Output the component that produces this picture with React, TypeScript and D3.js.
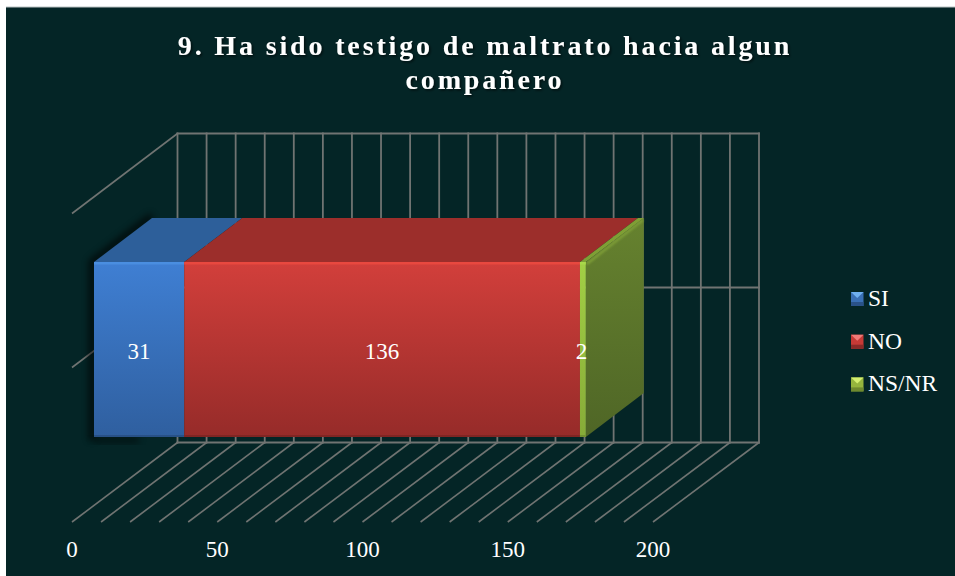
import React from "react";
import * as d3 from "d3";

const title = ["9. Ha sido testigo de maltrato hacia algun", "compañero"];
const seriesNames = ["SI", "NO", "NS/NR"];
const seriesValues = [31, 136, 2];
const axisTicks = [0, 50, 100, 150, 200];
const gridTicks = d3.range(0, 201, 10);

const frontColors = [["#3f7fd3", "#2f5f9f"], ["#d23f3b", "#962b29"], ["#a2cf45", "#86ab38"]];
const topColors = ["#2d5f9a", "#9c2e2b", "#7f9f35"];
const edgeColors = ["#4a8ee0", "#e8483f", "#a8d84a"];
const sideColor = ["#66822f", "#4f6626"];
const legendColors = [["#6fb0f0", "#3a70b5", "#2a5288"], ["#f07a78", "#c63a36", "#8a2a28"], ["#d4ef70", "#95b53d", "#6f8a2e"]];

const backX = d3.scaleLinear().domain([0, 200]).range([177.5, 759]);
const floorX = d3.scaleLinear().domain([0, 200]).range([72, 653]);
const barX = d3.scaleLinear().domain([0, 200]).range([94, 676]);
const wallY = { top: 133.5, mid: 287.5, bottom: 442.5 };
const floorY = 522;
const wallDrop = 80;
const bar = { top: 262, bottom: 437, dx: 58, dy: -44 };

const serif = "'Liberation Serif', 'Times New Roman', serif";
const grid = "#707472";

let acc = 0;
const stacks = seriesValues.map((v) => {
  const s = { x0: barX(acc), x1: barX(acc + v) };
  acc += v;
  return s;
});

export default function App() {
  const last = stacks[stacks.length - 1];
  const first = stacks[0];
  return (
    <svg width={955} height={576} style={{ position: "absolute", left: 0, top: 0, background: "#fff" }}>
      <defs>
        {frontColors.map((c, i) => (
          <linearGradient key={i} id={`f${i}`} x1="0" y1="0" x2="0" y2="1">
            <stop offset="0" stopColor={c[0]} />
            <stop offset="1" stopColor={c[1]} />
          </linearGradient>
        ))}
        <linearGradient id="side" x1="0" y1="0" x2="0" y2="1">
          <stop offset="0" stopColor={sideColor[0]} />
          <stop offset="1" stopColor={sideColor[1]} />
        </linearGradient>
        <filter id="blur" x="-30%" y="-30%" width="160%" height="160%">
          <feGaussianBlur stdDeviation="3.5" />
        </filter>
        <filter id="soft" x="-30%" y="-30%" width="160%" height="160%">
          <feGaussianBlur stdDeviation="1" />
        </filter>
        <filter id="ts" x="-5%" y="-20%" width="110%" height="140%">
          <feDropShadow dx="1.5" dy="1.5" stdDeviation="1" floodColor="#000" floodOpacity="0.6" />
        </filter>
      </defs>
      <rect x={6} y={7} width={949} height={569} fill="#042526" />
      <line x1={6} x2={955} y1={7} y2={7} stroke="#b9c2c2" strokeWidth={1} />

      <g fill="none" stroke={grid} strokeLinecap="square">
        <g strokeWidth={1.8}>
          {gridTicks.map((t) => (
            <line key={`v${t}`} x1={backX(t)} x2={backX(t)} y1={wallY.top} y2={wallY.bottom} />
          ))}
          {[wallY.top, wallY.mid, wallY.bottom].map((y) => (
            <line key={`h${y}`} x1={backX(0)} x2={backX(200)} y1={y} y2={y} />
          ))}
        </g>
        <g strokeWidth={1.6} strokeLinecap="butt">
          {gridTicks.map((t) => (
            <line key={`d${t}`} x1={backX(t)} x2={floorX(t)} y1={wallY.bottom} y2={floorY} />
          ))}
          {[wallY.top, wallY.mid].map((y) => (
            <line key={`w${y}`} x1={backX(0)} x2={floorX(0)} y1={y} y2={y + wallDrop} />
          ))}
        </g>
      </g>

      <g>
        <path
          d={`M${first.x0 - 2},${bar.bottom + 3} L${first.x0 - 2},${bar.top} L${first.x0 + bar.dx},${bar.top + bar.dy - 2}`}
          fill="none" stroke="#000" strokeWidth={6} opacity={0.75} filter="url(#blur)"
        />
        <rect x={first.x0} y={bar.bottom} width={45} height={6} fill="#000" opacity={0.5} filter="url(#blur)" />
        {stacks.map((s, i) => (
          <path
            key={`t${i}`}
            d={d3.line()([[s.x0, bar.top], [s.x1, bar.top], [s.x1 + bar.dx, bar.top + bar.dy], [s.x0 + bar.dx, bar.top + bar.dy]]) + "Z"}
            fill={topColors[i]}
          />
        ))}
        <path
          d={d3.line()([[last.x1, bar.top], [last.x1 + bar.dx, bar.top + bar.dy], [last.x1 + bar.dx, bar.bottom + bar.dy], [last.x1, bar.bottom]]) + "Z"}
          fill="url(#side)"
        />
        <line x1={last.x1 + 1} y1={bar.top + 2} x2={last.x1 + bar.dx - 1} y2={bar.top + bar.dy + 2} stroke="#7f9f38" strokeWidth={2.5} filter="url(#soft)" />
        {stacks.map((s, i) => (
          <g key={`f${i}`}>
            <rect x={s.x0} y={bar.top} width={s.x1 - s.x0} height={bar.bottom - bar.top} fill={`url(#f${i})`} />
            <rect x={s.x0} y={bar.top} width={s.x1 - s.x0} height={2.5} fill={edgeColors[i]} />
            <rect x={s.x0} y={bar.bottom - 2} width={s.x1 - s.x0} height={2} fill={frontColors[i][1]} style={{ filter: "brightness(0.85)" }} />
          </g>
        ))}
      </g>

      <g fontFamily={serif} fontSize={23} fill="#fff" textAnchor="middle">
        {stacks.map((s, i) => (
          <text key={i} x={Math.min((s.x0 + s.x1) / 2, last.x0 + 1.5)} y={359}>{seriesValues[i]}</text>
        ))}
        {axisTicks.map((t) => (
          <text key={t} x={floorX(t)} y={557}>{t}</text>
        ))}
      </g>

      <g fontFamily={serif} fontSize={28} fontWeight="bold" fill="#fff" textAnchor="middle" letterSpacing={2.85} filter="url(#ts)">
        <text x={485} y={55}>{title[0]}</text>
        <text x={485} y={89}>{title[1]}</text>
      </g>

      {seriesNames.map((n, i) => {
        const y = 292 + i * 42.7;
        const s = 12.5;
        const c = legendColors[i];
        return (
          <g key={n}>
            <rect x={851} y={y} width={s} height={14} fill={c[1]} />
            <path d={d3.line()([[851, y], [851 + s, y], [851 + s / 2, y + 6]]) + "Z"} fill={c[0]} />
            <rect x={851} y={y + 10} width={s} height={4} fill={c[2]} />
            <text x={868} y={y + 14} fontFamily={serif} fontSize={23.5} fill="#fff">{n}</text>
          </g>
        );
      })}
    </svg>
  );
}
